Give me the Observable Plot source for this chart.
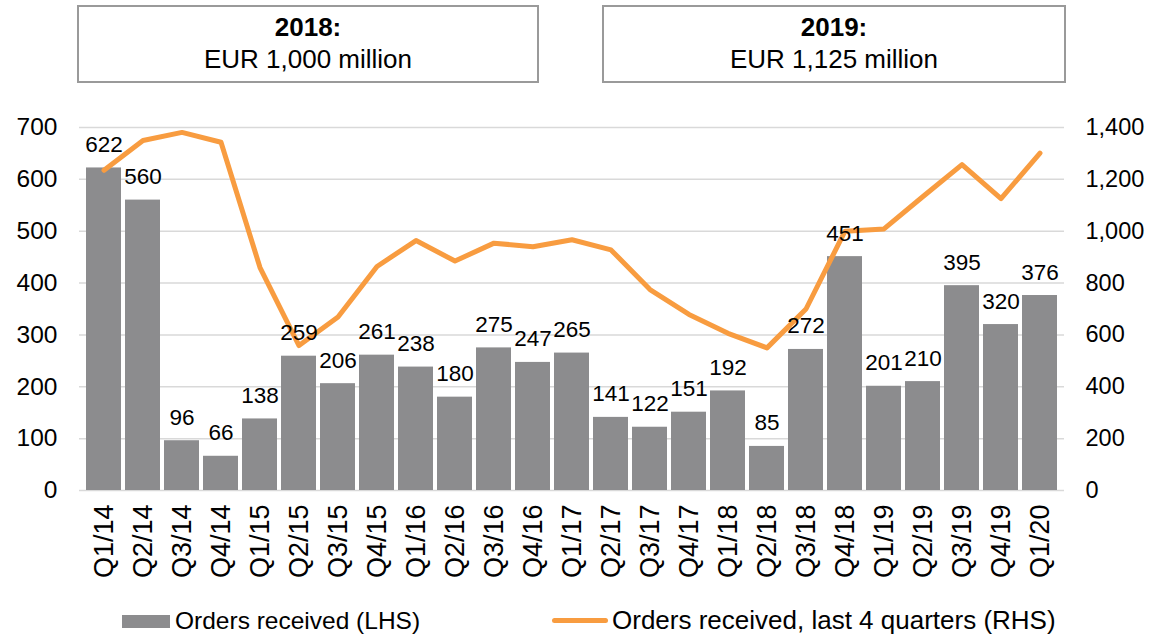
<!DOCTYPE html>
<html>
<head>
<meta charset="utf-8">
<script src="https://cdn.jsdelivr.net/npm/d3@7"></script>
<script src="https://cdn.jsdelivr.net/npm/@observablehq/plot@0.6"></script>
<style>
  html, body { margin: 0; padding: 0; background: #fff; }
  #wrap { position: relative; width: 1159px; height: 637px; font-family: "Liberation Sans", Arial, sans-serif; color: #000; overflow: hidden; }
  .box { position: absolute; top: 5px; height: 70px; border: 2px solid #9a9a9a; background: #fff; text-align: center; font-size: 26px; line-height: 32px; padding-top: 4px; }
  .box b { display: block; }
  #chart { position: absolute; left: 0; top: 0; }
  .leg { position: absolute; font-size: 24.5px; line-height: 28px; white-space: nowrap; }
</style>
</head>
<body>
<div id="wrap">
  <div class="box" style="left:77px;width:458px;"><b>2018:</b>EUR 1,000 million</div>
  <div class="box" style="left:602px;width:460px;"><b>2019:</b>EUR 1,125 million</div>
  <div id="chart"></div>
  <div style="position:absolute;left:122px;top:615px;width:48px;height:13px;background:#8c8c8e;"></div>
  <div class="leg" style="left:175px;top:607px;">Orders received (LHS)</div>
  <div style="position:absolute;left:552px;top:618px;width:56px;height:5px;border-radius:3px;background:#f89c40;"></div>
  <div class="leg" style="left:612px;top:606px;font-size:26px;">Orders received, last 4 quarters (RHS)</div>
</div>
<script>
const quarters = ["Q1/14","Q2/14","Q3/14","Q4/14","Q1/15","Q2/15","Q3/15","Q4/15","Q1/16","Q2/16","Q3/16","Q4/16","Q1/17","Q2/17","Q3/17","Q4/17","Q1/18","Q2/18","Q3/18","Q4/18","Q1/19","Q2/19","Q3/19","Q4/19","Q1/20"];
const orders = [622,560,96,66,138,259,206,261,238,180,275,247,265,141,122,151,192,85,272,451,201,210,395,320,376];
const last4 = [1235,1350,1381,1343,860,559,669,864,964,885,954,940,967,928,775,679,606,550,700,1000,1009,1134,1257,1126,1301];
const leftTicks = [0,100,200,300,400,500,600,700];
const rightTicks = [0,200,400,600,800,1000,1200,1400];

const data = quarters.map((q, i) => ({q, orders: orders[i], last4: last4[i]}));
const font = "Liberation Sans, Arial, sans-serif";

const chart = Plot.plot({
  width: 1159,
  height: 600,
  marginTop: 127,
  marginBottom: 110,
  marginLeft: 79,
  marginRight: 95,
  style: {fontFamily: font, fontSize: "24px", color: "#000", background: "transparent"},
  x: {type: "band", domain: quarters, paddingInner: 0.09, paddingOuter: 0.06, label: null},
  y: {domain: [0, 700], label: null},
  marks: [
    Plot.gridY(leftTicks, {stroke: "#d9d9d9", strokeOpacity: 1, strokeWidth: 1.5}),
    Plot.barY(data, {x: "q", y: "orders", fill: "#8c8c8e"}),
    Plot.line(data, {x: "q", y: d => d.last4 / 2, stroke: "#f89c40", strokeWidth: 5, strokeLinejoin: "round", strokeLinecap: "round"}),
    Plot.text(data, {x: "q", y: "orders", text: d => String(d.orders), lineAnchor: "bottom", dy: -16, fontSize: 22.5, fill: "#000"}),
    Plot.axisY(leftTicks, {anchor: "left", tickSize: 0, tickPadding: 22, label: null, fontSize: 24.5}),
    Plot.axisY(rightTicks.map(v => v / 2), {anchor: "right", tickSize: 0, tickPadding: 21, label: null, fontSize: 23.5, tickFormat: v => d3.format(",")(v * 2), textAnchor: "start"}),
    Plot.axisX({tickRotate: -90, tickSize: 0, tickPadding: 14, label: null, fontSize: 27})
  ]
});
document.getElementById("chart").appendChild(chart);
</script>
</body>
</html>
